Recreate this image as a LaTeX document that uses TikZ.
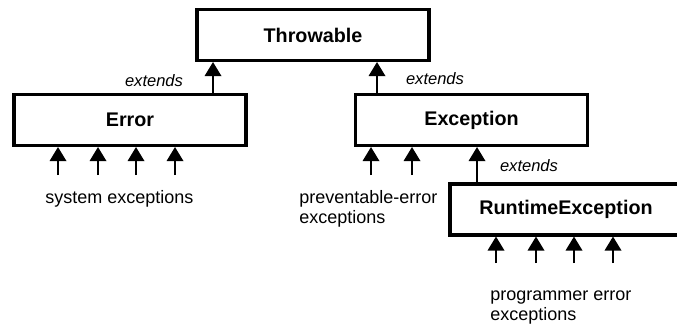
\documentclass[tikz,border=0pt]{standalone}
\usepackage{fontspec}
\setmainfont{Liberation Sans}
\usetikzlibrary{arrows.meta}

\tikzset{
  classbox/.style={draw, line width=2.6pt, minimum width=174pt, minimum height=38pt,
    inner sep=0pt, font=\fontsize{14.8}{17}\selectfont\bfseries},
  inherit/.style={-{Triangle[width=12.5pt,length=10.5pt]}, line width=1pt},
  extlabel/.style={font=\fontsize{12.4}{15}\selectfont\itshape, inner sep=0pt},
  note/.style={font=\fontsize{13.5}{15}\selectfont, align=left, inner sep=0pt}
}

\begin{document}
\begin{tikzpicture}[x=0.75pt,y=-0.75pt]
    \useasboundingbox (0,0) rectangle (677,325);

    % classes
    \node[classbox] (throwable) at (313,35) {Throwable};
    \node[classbox] (error) at (130,120) {Error};
    \node[classbox] (exception) at (471.5,120) {Exception};
    \node[classbox] (runtime) at (566,209.5) {RuntimeException};

    % extends
    \draw[inherit] (error.north -| 213,0) -- (throwable.south -| 213,0);
    \draw[inherit] (exception.north -| 377,0) -- (throwable.south -| 377,0);
    \draw[inherit] (runtime.north -| 477,0) -- (exception.south -| 477,0);
    \node[extlabel] (ext1) at (154,81) {extends};
    \node[extlabel] (ext2) at (435,79) {extends};
    \node[extlabel] (ext3) at (529,166) {extends};

    % subclasses
    \foreach \x in {58,98,136,175} {
        \coordinate (e\x) at (\x,175);
        \draw[inherit] (e\x) -- (e\x |- error.south);
    }
    \foreach \x in {371,412} {
        \coordinate (x\x) at (\x,175);
        \draw[inherit] (x\x) -- (x\x |- exception.south);
    }
    \foreach \x in {496,536,574,613} {
        \coordinate (r\x) at (\x,263);
        \draw[inherit] (r\x) -- (r\x |- runtime.south);
    }

    \node[note, anchor=base west] (sysexc) at (45,203) {system exceptions};
    \node[note, anchor=base west] (prevexc) at (299,223) {preventable-error\\exceptions};
    \node[note, anchor=base west] (progexc) at (490,320) {programmer error\\exceptions};
\end{tikzpicture}
\end{document}
